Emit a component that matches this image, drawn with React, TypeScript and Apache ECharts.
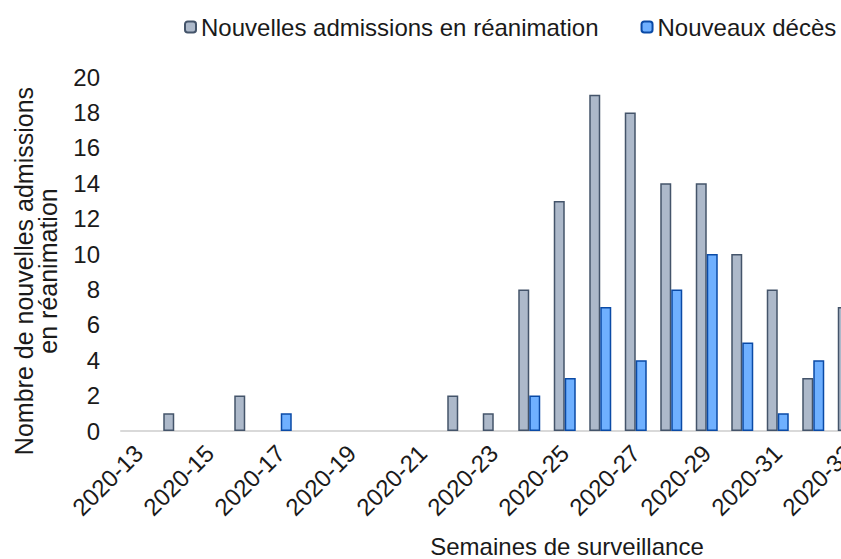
import React, { useEffect, useRef } from "react";
import * as echarts from "echarts";

const weeks = ["2020-13","2020-14","2020-15","2020-16","2020-17","2020-18","2020-19","2020-20","2020-21","2020-22","2020-23","2020-24","2020-25","2020-26","2020-27","2020-28","2020-29","2020-30","2020-31","2020-32","2020-33"];
const admissions = [0,1,0,2,0,0,0,0,0,2,1,8,13,19,18,14,14,10,8,3,7];
const deaths = [0,0,0,0,1,0,0,0,0,0,0,2,3,7,4,8,10,5,1,4,0];
const yTicks = { min: 0, max: 20, interval: 2 };

const FONT = "'Liberation Sans', Arial, sans-serif";
const hideZero = (arr: number[]) => arr.map((v) => (v === 0 ? "-" : v));

export default function App() {
  const ref = useRef<HTMLDivElement>(null);
  useEffect(() => {
    if (!ref.current) return;
    const chart = echarts.init(ref.current, null, { renderer: "svg" });
    chart.setOption({
      animation: false,
      textStyle: { fontFamily: FONT },
      legend: {
        left: 179,
        top: 10,
        itemWidth: 11,
        itemHeight: 11,
        itemGap: 42,
        textStyle: { fontSize: 24, color: "#1a1a1a", fontFamily: FONT },
        data: ["Nouvelles admissions en réanimation", "Nouveaux décès"],
      },
      grid: { left: 121, right: 33.5, top: 77, bottom: 128 },
      xAxis: {
        type: "category",
        data: weeks,
        axisLine: { lineStyle: { color: "#d9d9d9", width: 2 } },
        axisTick: { show: false },
        axisLabel: {
          interval: 1,
          rotate: 45,
          margin: 18,
          fontSize: 24,
          color: "#1a1a1a",
          fontFamily: FONT,
        },
      },
      yAxis: {
        type: "value",
        min: yTicks.min,
        max: yTicks.max,
        interval: yTicks.interval,
        splitLine: { show: false },
        axisLine: { show: false },
        axisTick: { show: false },
        axisLabel: { margin: 21, fontSize: 24, color: "#1a1a1a", fontFamily: FONT },
      },
      series: [
        {
          name: "Nouvelles admissions en réanimation",
          type: "bar",
          data: hideZero(admissions),
          barWidth: 11,
          barGap: "0%",
          itemStyle: { color: "#adb9ca", borderColor: "#44546a", borderWidth: 1.5 },
        },
        {
          name: "Nouveaux décès",
          type: "bar",
          data: hideZero(deaths),
          barWidth: 11,
          barGap: "0%",
          itemStyle: { color: "#6fb0ff", borderColor: "#0a4aa6", borderWidth: 1.5 },
        },
      ],
      graphic: [
        {
          type: "text",
          x: 36,
          y: 271,
          rotation: Math.PI / 2,
          style: {
            text: "Nombre de nouvelles admissions\nen réanimation",
            fontSize: 25,
            fontFamily: FONT,
            fill: "#1a1a1a",
            align: "center",
            verticalAlign: "middle",
            lineHeight: 24,
          },
        },
        {
          type: "text",
          x: 567,
          y: 546,
          style: {
            text: "Semaines de surveillance",
            fontSize: 24,
            fontFamily: FONT,
            fill: "#1a1a1a",
            align: "center",
            verticalAlign: "middle",
          },
        },
      ],
    });
    return () => chart.dispose();
  }, []);
  return (
    <div style={{ position: "fixed", left: 0, top: 0, width: 841, height: 559, overflow: "hidden", background: "#fff" }}>
      <div ref={ref} style={{ width: 900, height: 559 }} />
    </div>
  );
}
